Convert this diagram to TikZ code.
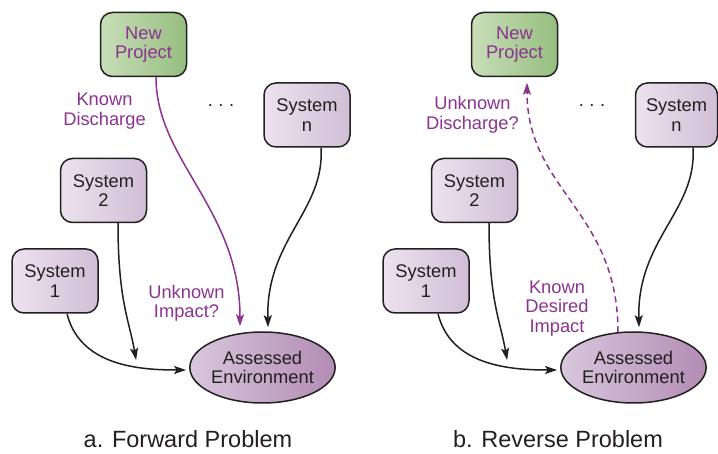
\documentclass[tikz,border=0pt]{standalone}
\usepackage{fontspec}
\setmainfont{Liberation Sans}
\usetikzlibrary{arrows.meta,shapes.geometric,calc}
\definecolor{edge}{RGB}{35,31,32}
\definecolor{purp}{RGB}{140,50,145}
\definecolor{sysL}{RGB}{236,226,238}
\definecolor{sysR}{RGB}{208,190,214}
\definecolor{npL}{RGB}{200,222,184}
\definecolor{npR}{RGB}{150,190,128}
\definecolor{envL}{RGB}{216,199,221}
\definecolor{envR}{RGB}{178,140,180}
\newcommand\nodefnt{\fontsize{18.3}{19.5}\selectfont}
\newcommand\capfnt{\fontsize{23.5}{26}\selectfont}
\newcommand\threedots{.\hspace{5.5pt}.\hspace{5.5pt}.}
\begin{document}
\begin{tikzpicture}[x=1pt,y=-1pt,
  sysbox/.style={draw=edge, line width=1.5pt, rounded corners=12pt,
    left color=sysL, right color=sysR, minimum width=86pt, minimum height=64pt,
    inner sep=0pt, align=center, font=\nodefnt, text=edge},
  npbox/.style={sysbox, left color=npL, right color=npR, text=purp},
  envnode/.style={ellipse, draw=edge, line width=1.5pt, left color=envL, right color=envR,
    minimum width=145pt, minimum height=71pt, inner sep=0pt, align=center,
    font=\nodefnt, text=edge},
  lbl/.style={text=purp, align=center, font=\nodefnt, inner sep=0pt},
  dotsnode/.style={text=edge, font=\nodefnt, inner sep=0pt},
  capnode/.style={text=edge, font=\capfnt, inner sep=0pt},
  conn/.style={line width=1.5pt, draw=edge, -{Stealth[length=12pt,width=8pt,inset=2.5pt]}},
  pconn/.style={conn, draw=purp},
  dconn/.style={pconn, dash pattern=on 6pt off 4pt}
]
\useasboundingbox (0,0) rectangle (718,454);

% ---------- a. Forward problem ----------
\node[npbox] (np) at (143.5,44.5) {New\\Project};
\node[sysbox] (sn) at (307,115) {System\\n};
\node[sysbox] (s2) at (103.5,190.5) {System\\2};
\node[sysbox] (s1) at (55,281) {System\\1};
\node[envnode] (env) at (262.5,367.5) {Assessed\\Environment};
\node[dotsnode] (dA) at (221,106) {\threedots};
\node[lbl] (kd) at (104.5,111) {Known\\Discharge};
\node[lbl] (ui) at (186.5,303.5) {Unknown\\Impact?};
\node[capnode] (capA) at (188,439.5) {a. Forward Problem};

\coordinate (a1) at ($(np.south)+(12.5,0)$);
\coordinate (a2) at ($(env.north)+(-22.5,-5)$);
\draw[pconn] (a1) .. controls ($(a1)+(0,83)$) and ($(a2)+(0,-117)$) .. (a2);

\coordinate (b1) at ($(sn.south)+(14,0)$);
\coordinate (b2) at ($(env.north)+(5.5,-4)$);
\draw[conn] (b1) .. controls ($(b1)+(4,63)$) and ($(b2)+(-2,-88)$) .. (b2);

\coordinate (c1) at ($(s2.south)+(14.5,0)$);
\coordinate (c2) at ($(env.west)+(-53,-7.5)$);
\draw[conn] (c1) .. controls ($(c1)+(0,77)$) and ($(c2)+(-7,-40)$) .. (c2);

\coordinate (d1) at ($(s1.south)+(12,0)$);
\coordinate (d2) at ($(env.west)+(-3,2.5)$);
\draw[conn] (d1) .. controls ($(d1)+(13,52)$) and ($(d2)+(-47,0)$) .. (d2);

% ---------- b. Reverse problem ----------
\node[npbox] (np2) at (514.5,44.5) {New\\Project};
\node[sysbox, minimum width=82pt] (sn2) at (676.5,115) {System\\n};
\node[sysbox] (s22) at (474.5,190.5) {System\\2};
\node[sysbox] (s12) at (426,281) {System\\1};
\node[envnode] (env2) at (633.5,367.5) {Assessed\\Environment};
\node[dotsnode] (dB) at (592,106) {\threedots};
\node[lbl] (ud) at (472.5,115) {Unknown\\Discharge?};
\node[lbl] (kdi) at (557,308.5) {Known\\Desired\\Impact};
\node[capnode] (capB) at (558,439.5) {b. Reverse Problem};

\coordinate (e1) at ($(env2.north)+(-15.5,1)$);
\coordinate (e2) at ($(np2.south)+(12.5,5.5)$);
\draw[dconn] (e1) .. controls ($(e1)+(0,-122)$) and ($(e2)+(0,108)$) .. (e2);

\coordinate (f1) at ($(sn2.south)+(16.5,0)$);
\coordinate (f2) at ($(env2.north)+(5.5,-4)$);
\draw[conn] (f1) .. controls ($(f1)+(4,63)$) and ($(f2)+(-2,-88)$) .. (f2);

\coordinate (g1) at ($(s22.south)+(14.5,0)$);
\coordinate (g2) at ($(env2.west)+(-53,-7.5)$);
\draw[conn] (g1) .. controls ($(g1)+(0,77)$) and ($(g2)+(-7,-40)$) .. (g2);

\coordinate (h1) at ($(s12.south)+(12,0)$);
\coordinate (h2) at ($(env2.west)+(-3,2.5)$);
\draw[conn] (h1) .. controls ($(h1)+(13,52)$) and ($(h2)+(-47,0)$) .. (h2);
\end{tikzpicture}
\end{document}
